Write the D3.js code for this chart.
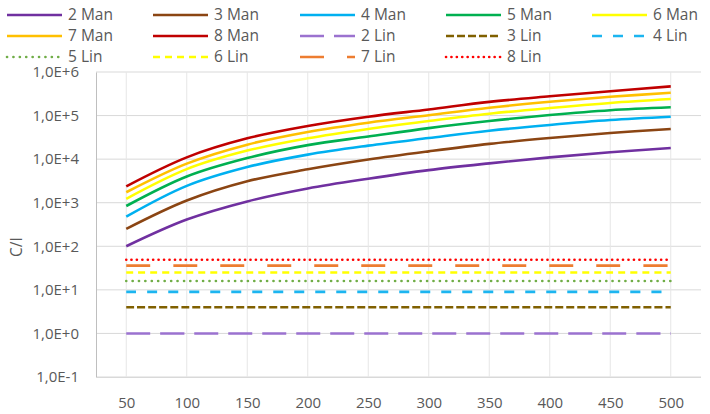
<html>
<head>
<script type="text/javascript" src="https://cdnjs.cloudflare.com/ajax/libs/d3/7.8.5/d3.min.js"></script>
<style type="text/css">
  body{
    margin:0;
    background:#fff;
  }
  text{
    font-family:"Open Sans", sans-serif;
    fill:#595959;
  }
  .tick text{
    font-size:15px;
  }
  .legendLabel{
    font-size:15.5px;
  }
</style>
</head>
<body>
<div id="chart"></div>
<script type="text/javascript">
let categories=[50,100,150,200,250,300,350,400,450,500];
let yTicks=[1e-1,1e0,1e1,1e2,1e3,1e4,1e5,1e6];

let man2=[100,410,1070,2120,3550,5600,8000,11000,14400,18000];
let man3=[250,1120,3100,5850,9800,15100,22400,30500,39800,49000];
let man4=[480,2440,6600,12700,20400,30500,45000,61000,79000,94000];
let man5=[840,4000,10600,21000,33000,51500,75000,103000,133000,155000];
let man6=[1230,5900,15700,30100,49400,75000,110000,149000,195000,240000];
let man7=[1740,7900,21500,42100,68700,102000,151000,207000,270000,333000];
let man8=[2380,11000,30000,57500,94000,138000,206000,277000,363000,467000];

let lin2=[1,1,1,1,1,1,1,1,1,1];
let lin3=[4,4,4,4,4,4,4,4,4,4];
let lin4=[9,9,9,9,9,9,9,9,9,9];
let lin5=[16,16,16,16,16,16,16,16,16,16];
let lin6=[25,25,25,25,25,25,25,25,25,25];
let lin7=[36,36,36,36,36,36,36,36,36,36];
let lin8=[49,49,49,49,49,49,49,49,49,49];

let series=[
  {name:"2 Man",values:man2,color:"#7030A0",dash:null,cap:"butt"},
  {name:"3 Man",values:man3,color:"#8B4513",dash:null,cap:"butt"},
  {name:"4 Man",values:man4,color:"#00B0F0",dash:null,cap:"butt"},
  {name:"5 Man",values:man5,color:"#00B050",dash:null,cap:"butt"},
  {name:"6 Man",values:man6,color:"#FFFF00",dash:null,cap:"butt"},
  {name:"7 Man",values:man7,color:"#FFC000",dash:null,cap:"butt"},
  {name:"8 Man",values:man8,color:"#C00000",dash:null,cap:"butt"},
  {name:"2 Lin",values:lin2,color:"#9B72CF",dash:"24 10",cap:"butt"},
  {name:"3 Lin",values:lin3,color:"#806000",dash:"8 3",cap:"butt"},
  {name:"4 Lin",values:lin4,color:"#1CB5F0",dash:"10 11",cap:"butt"},
  {name:"5 Lin",values:lin5,color:"#70AD47",dash:"0.1 6.3",cap:"round"},
  {name:"6 Lin",values:lin6,color:"#FFFF00",dash:"7 5",cap:"butt"},
  {name:"7 Lin",values:lin7,color:"#ED7D31",dash:"24 23",cap:"butt"},
  {name:"8 Lin",values:lin8,color:"#FF0000",dash:"0.1 5.3",cap:"round"}
];

let containerDim={width:710,height:414};
let plot={left:96,right:701,top:72,bottom:377};

let svg=d3.select('#chart')
.append('svg')
.attr('width',containerDim.width)
.attr('height',containerDim.height);

let x=d3.scalePoint()
.domain(categories)
.range([plot.left,plot.right])
.padding(0.5);

let y=d3.scaleLog()
.domain([1e-1,1e6])
.range([plot.bottom,plot.top]);

function sciFormat(d){
  let e=Math.round(Math.log10(d));
  return '1,0E'+(e<0?'-':'+')+Math.abs(e);
}

// gridlines
let grid=svg.append('g').attr('class','grid');
grid.selectAll('.hgrid')
.data(yTicks)
.enter()
.append('line')
.attr('x1',plot.left)
.attr('x2',plot.right)
.attr('y1',d=>y(d))
.attr('y2',d=>y(d))
.attr('stroke','#D9D9D9')
.attr('stroke-width',1);

grid.selectAll('.vgrid')
.data(categories)
.enter()
.append('line')
.attr('x1',d=>x(d))
.attr('x2',d=>x(d))
.attr('y1',plot.top)
.attr('y2',plot.bottom)
.attr('stroke','#E6E6E6')
.attr('stroke-width',1);

let yAxis=d3.axisLeft(y)
.tickValues(yTicks)
.tickFormat(sciFormat)
.tickSize(0)
.tickPadding(17);

svg.append('g')
.attr('class','yaxis')
.attr('transform','translate('+plot.left+',0)')
.call(yAxis)
.call(g=>g.select('.domain').attr('stroke','#BFBFBF'));

let xAxis=d3.axisBottom(x)
.tickSize(0)
.tickPadding(20);

svg.append('g')
.attr('class','xaxis')
.attr('transform','translate(0,'+plot.bottom+')')
.call(xAxis)
.call(g=>g.select('.domain').attr('d','M'+plot.left+',0.5H'+plot.right).attr('stroke','#D9D9D9'));

svg.append('text')
.attr('transform','translate(22,247) rotate(-90)')
.attr('text-anchor','middle')
.style('font-size','15.5px')
.text('C/I');

let line=d3.line()
.x((d,i)=>x(categories[i]))
.y(d=>y(d))
.curve(d3.curveCatmullRom.alpha(0.5));

let lines=svg.append('g').attr('class','lines');
series.slice().reverse().forEach(s=>{
  lines.append('path')
  .datum(s.values)
  .attr('d',line)
  .attr('fill','none')
  .attr('stroke',s.color)
  .attr('stroke-width',2.6)
  .attr('stroke-dasharray',s.dash)
  .attr('stroke-linecap',s.cap);
});

// legend
let legendCols=[7,153,300,446,592];
let legendRows=[15,36,57];
let legend=svg.append('g').attr('class','legend');
series.forEach((s,i)=>{
  let lx=legendCols[i%5];
  let ly=legendRows[Math.floor(i/5)];
  let item=legend.append('g').attr('transform','translate('+lx+','+ly+')');
  item.append('line')
  .attr('x1',0)
  .attr('x2',55)
  .attr('y1',0)
  .attr('y2',0)
  .attr('stroke',s.color)
  .attr('stroke-width',2.6)
  .attr('stroke-dasharray',s.dash)
  .attr('stroke-linecap',s.cap);
  item.append('text')
  .attr('class','legendLabel')
  .attr('x',61)
  .attr('y',0)
  .attr('dy','0.35em')
  .text(s.name);
});
</script>
</body>
</html>
